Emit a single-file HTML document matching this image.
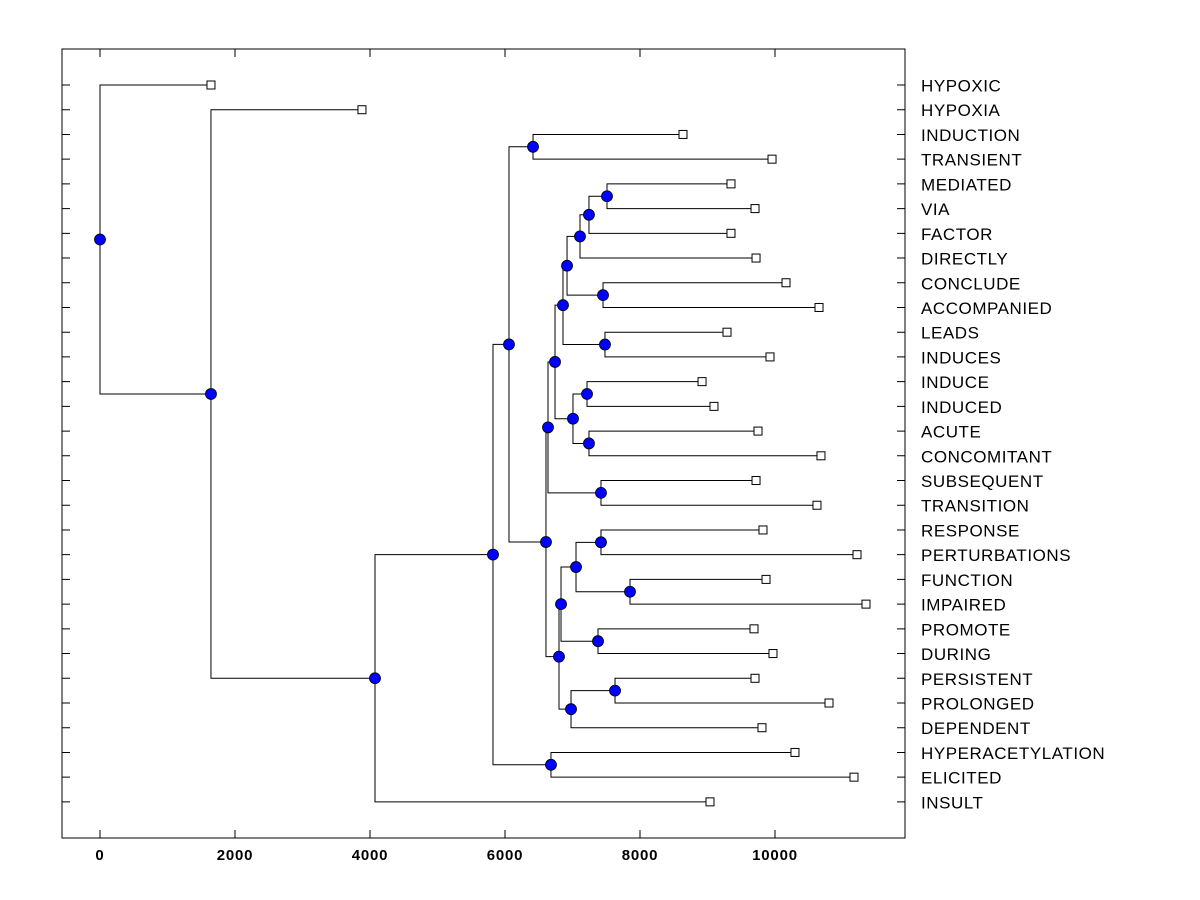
<!DOCTYPE html>
<html><head><meta charset="utf-8"><style>
html,body{margin:0;padding:0;background:#fff;}
svg{display:block;font-family:"Liberation Sans",Arial,sans-serif;}
</style></head><body>
<svg id="chart" width="1200" height="900" viewBox="0 0 1200 900" xmlns="http://www.w3.org/2000/svg">
<rect x="0" y="0" width="1200" height="900" fill="#fff"/>
<g id="marks"></g>
<rect x="62" y="49" width="843" height="789" fill="none" stroke="#000" stroke-width="1"/>
<g id="axes"></g>
</svg>
<script>
const leaves = ["HYPOXIC","HYPOXIA","INDUCTION","TRANSIENT","MEDIATED","VIA","FACTOR","DIRECTLY","CONCLUDE","ACCOMPANIED","LEADS","INDUCES","INDUCE","INDUCED","ACUTE","CONCOMITANT","SUBSEQUENT","TRANSITION","RESPONSE","PERTURBATIONS","FUNCTION","IMPAIRED","PROMOTE","DURING","PERSISTENT","PROLONGED","DEPENDENT","HYPERACETYLATION","ELICITED","INSULT"];
const leafValues = [1644,3881,8637,9956,9348,9704,9348,9719,10163,10652,9289,9926,8919,9096,9748,10681,9719,10622,9822,11215,9867,11348,9689,9970,9704,10800,9807,10296,11170,9037];
const mergeLeft =  [2,4,31,32,8,33,10,35,12,14,38,37,16,41,18,20,44,22,46,24,49,48,43,30,27,53,55,1,0];
const mergeRight = [3,5,6,7,9,34,11,36,13,15,39,40,17,42,19,21,45,23,47,25,26,50,51,52,28,54,29,56,57];
const mergeHeights = [6415,7511,7244,7111,7452,6919,7481,6859,7215,7244,7007,6741,7422,6637,7422,7852,7052,7378,6830,7630,6978,6800,6607,6059,6681,5822,4074,1644,0];
const xTicks = [0,2000,4000,6000,8000,10000];

const NS="http://www.w3.org/2000/svg";
const X0=100, XS=0.0675;
const xScale=v=>X0+v*XS;
const Y0=85, YS=24.72;
const yScale=i=>Y0+i*YS;
const marks=document.getElementById('marks');
const axes=document.getElementById('axes');
function mk(tag,attrs,parent){const e=document.createElementNS(NS,tag);for(const k in attrs)e.setAttribute(k,attrs[k]);parent.appendChild(e);return e;}

const nodeX=[], nodeY=[];
leaves.forEach((n,i)=>{nodeX[i]=xScale(leafValues[i]);nodeY[i]=yScale(i);});
mergeHeights.forEach((h,k)=>{
  const id=leaves.length+k, a=mergeLeft[k], b=mergeRight[k];
  const x=xScale(h), y=(nodeY[a]+nodeY[b])/2;
  nodeX[id]=x; nodeY[id]=y;
  const p=mk('path',{d:`M${nodeX[a]},${nodeY[a]}H${x}V${nodeY[b]}H${nodeX[b]}`,fill:'none',stroke:'#000','stroke-width':1},marks);
  
  
});
mergeHeights.forEach((h,k)=>{
  const id=leaves.length+k;
  const c=mk('circle',{cx:nodeX[id],cy:nodeY[id],r:5.5,fill:'#0000ff',stroke:'#000','stroke-width':0.8},marks);
  
  
});
leaves.forEach((n,i)=>{
  const s=mk('rect',{x:nodeX[i]-4,y:nodeY[i]-4,width:8,height:8,fill:'#fff',stroke:'#000','stroke-width':1},marks);
  
  
  const t=mk('text',{x:921,y:nodeY[i]+6.5,'font-size':17,'letter-spacing':0.55,fill:'#000'},axes);
  t.textContent=n;
  
  
  const tl=mk('path',{d:`M62,${nodeY[i]}H70M897,${nodeY[i]}H905`,stroke:'#000','stroke-width':1},axes);
  
  
});
xTicks.forEach(v=>{
  const x=xScale(v);
  const tk=mk('path',{d:`M${x},838V830M${x},49V57`,stroke:'#000','stroke-width':1},axes);
  
  
  const t=mk('text',{x:x,y:860,'font-size':15,'font-weight':'bold','letter-spacing':0.8,'text-anchor':'middle',fill:'#000'},axes);
  t.textContent=String(v);
  
  
});
</script>
</body></html>
